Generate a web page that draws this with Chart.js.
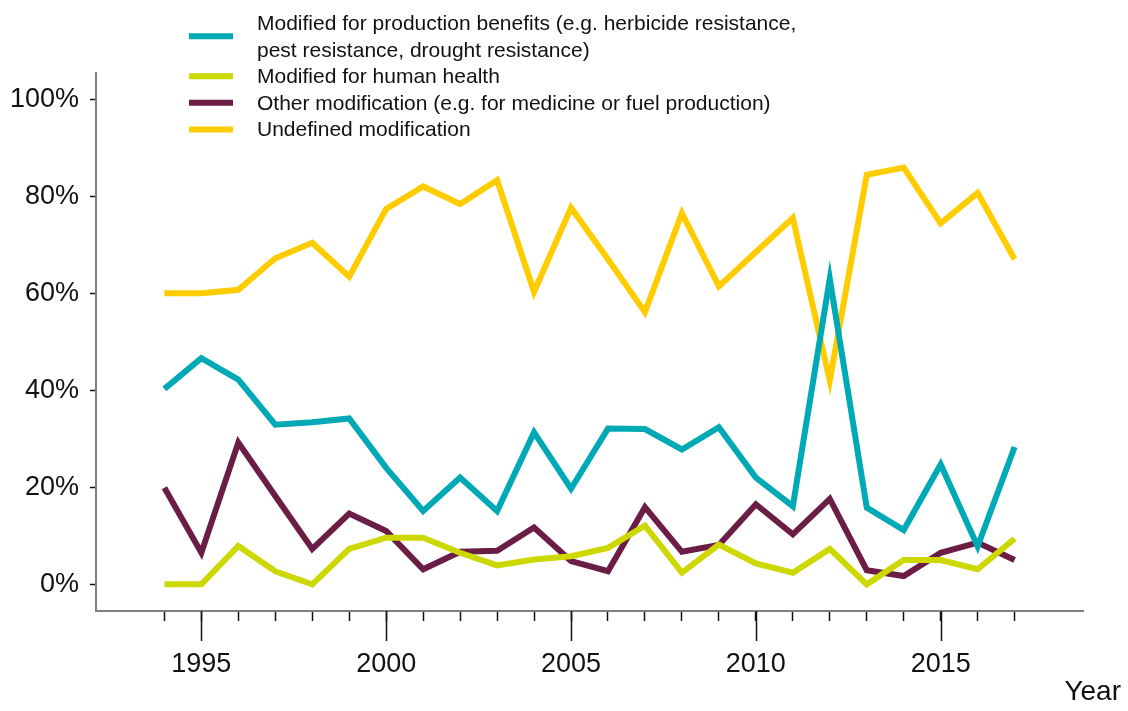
<!DOCTYPE html>
<html>
<head>
<meta charset="utf-8">
<script src="https://cdn.jsdelivr.net/npm/chart.js@4/dist/chart.umd.min.js"></script>
<style>
  html, body { margin: 0; padding: 0; background: #fff; }
  #wrap { width: 1128px; height: 711px; position: relative; }
</style>
</head>
<body>
<div id="wrap"><canvas id="gmChart"></canvas></div>
<script>
// data (percent of approvals per year)
var years = [1994,1995,1996,1997,1998,1999,2000,2001,2002,2003,2004,2005,2006,2007,2008,2009,2010,2011,2012,2013,2014,2015,2016,2017];
var production = [40.3,46.6,42.2,32.9,33.4,34.2,24.0,15.1,22.0,15.1,31.3,19.7,32.1,32.0,27.8,32.4,22.0,16.1,63.0,15.8,11.2,24.7,7.8,28.3];
var humanHealth = [0,0,7.9,2.7,0,7.3,9.6,9.6,6.5,3.9,5.1,5.8,7.5,12.1,2.4,8.2,4.3,2.4,7.3,0,5.0,5.0,3.1,9.4];
var otherMod = [19.9,6.5,29.2,18.2,7.3,14.6,11.0,3.1,6.7,6.9,11.7,4.8,2.7,15.9,6.7,8.1,16.5,10.3,17.6,2.9,1.7,6.5,8.6,5.0];
var undefinedMod = [60.0,60.0,60.7,67.2,70.4,63.4,77.4,82.0,78.4,83.3,60.3,77.6,67.0,56.1,76.5,61.4,68.5,75.5,42.0,84.4,85.9,74.4,80.7,67.0];
var yTicks = [0,20,40,60,80,100];

var legendLabels = [
    ["Modified for production benefits (e.g. herbicide resistance,", "pest resistance, drought resistance)"],
    ["Modified for human health"],
    ["Other modification (e.g. for medicine or fuel production)"],
    ["Undefined modification"]
];
var colors = ['#00a9b6', '#cdd700', '#6b1d45', '#ffcc00'];

var FONT = '"Liberation Sans", Arial, Helvetica, sans-serif';

function pts(vals) {
    return vals.map(function(v, i) { return { x: years[i], y: v }; });
}

function lineSet(vals, idx) {
    return {
        data: pts(vals),
        borderColor: colors[idx],
        backgroundColor: colors[idx],
        borderWidth: 6,
        borderJoinStyle: 'miter',
        borderCapStyle: 'butt',
        pointRadius: 0,
        tension: 0,
        fill: false
    };
}

// major year ticks, axis title and legend drawn on top
var overlay = {
    id: 'overlay',
    afterDraw: function(chart) {
        var ctx = chart.ctx, xs = chart.scales.x, area = chart.chartArea;
        ctx.save();
        ctx.strokeStyle = '#111';
        ctx.lineWidth = 1.5;
        years.forEach(function(y) {
            if (y % 5 !== 0) return;
            var px = Math.round(xs.getPixelForValue(y)) + 0.5;
            ctx.beginPath();
            ctx.moveTo(px, area.bottom);
            ctx.lineTo(px, area.bottom + 30);
            ctx.stroke();
        });

        ctx.fillStyle = '#111';
        ctx.font = '28px ' + FONT;
        ctx.textAlign = 'right';
        ctx.textBaseline = 'middle';
        ctx.fillText('Year', chart.width - 7, 692);

        // legend
        ctx.font = '21px ' + FONT;
        ctx.textAlign = 'left';
        ctx.textBaseline = 'alphabetic';
        var line = 0;
        legendLabels.forEach(function(lines, i) {
            var first = line;
            lines.forEach(function(t) {
                ctx.fillText(t, 257, 30 + 26.6 * line);
                line++;
            });
            var mid = 23 + 26.6 * (first + line - 1) / 2;
            ctx.strokeStyle = colors[i];
            ctx.lineWidth = 6;
            ctx.beginPath();
            ctx.moveTo(189, mid);
            ctx.lineTo(233, mid);
            ctx.stroke();
        });
        ctx.restore();
    }
};

new Chart(document.getElementById('gmChart'), {
    type: 'line',
    data: {
        datasets: [
            lineSet(production, 0),
            lineSet(humanHealth, 1),
            lineSet(otherMod, 2),
            lineSet(undefinedMod, 3)
        ]
    },
    options: {
        responsive: true,
        maintainAspectRatio: false,
        animation: false,
        layout: { padding: { top: 73, right: 45, left: 0, bottom: 0 } },
        plugins: {
            legend: { display: false },
            tooltip: { enabled: false }
        },
        scales: {
            x: {
                type: 'linear',
                min: 1992.15,
                max: 2018.85,
                afterBuildTicks: function(s) { s.ticks = years.map(function(v) { return { value: v }; }); },
                afterFit: function(s) { s.height = 100; },
                border: { display: true, color: '#808080', width: 2 },
                grid: { display: true, drawOnChartArea: false, drawTicks: true, tickLength: 10, tickColor: '#111', tickWidth: 1.5 },
                ticks: {
                    autoSkip: false,
                    maxRotation: 0,
                    padding: 27,
                    color: '#111',
                    font: { family: FONT, size: 27 },
                    callback: function(v) { return v % 5 === 0 ? String(v) : ''; }
                }
            },
            y: {
                min: -5.5,
                max: 105.4,
                afterBuildTicks: function(s) { s.ticks = yTicks.map(function(v) { return { value: v }; }); },
                afterFit: function(s) { s.width = 96; },
                border: { display: true, color: '#808080', width: 2 },
                grid: { display: true, drawOnChartArea: false, drawTicks: true, tickLength: 6, tickColor: '#111', tickWidth: 1.5 },
                ticks: {
                    padding: 11,
                    color: '#111',
                    font: { family: FONT, size: 27 },
                    callback: function(v) { return v + '%'; }
                }
            }
        }
    },
    plugins: [overlay]
});
</script>
</body>
</html>
